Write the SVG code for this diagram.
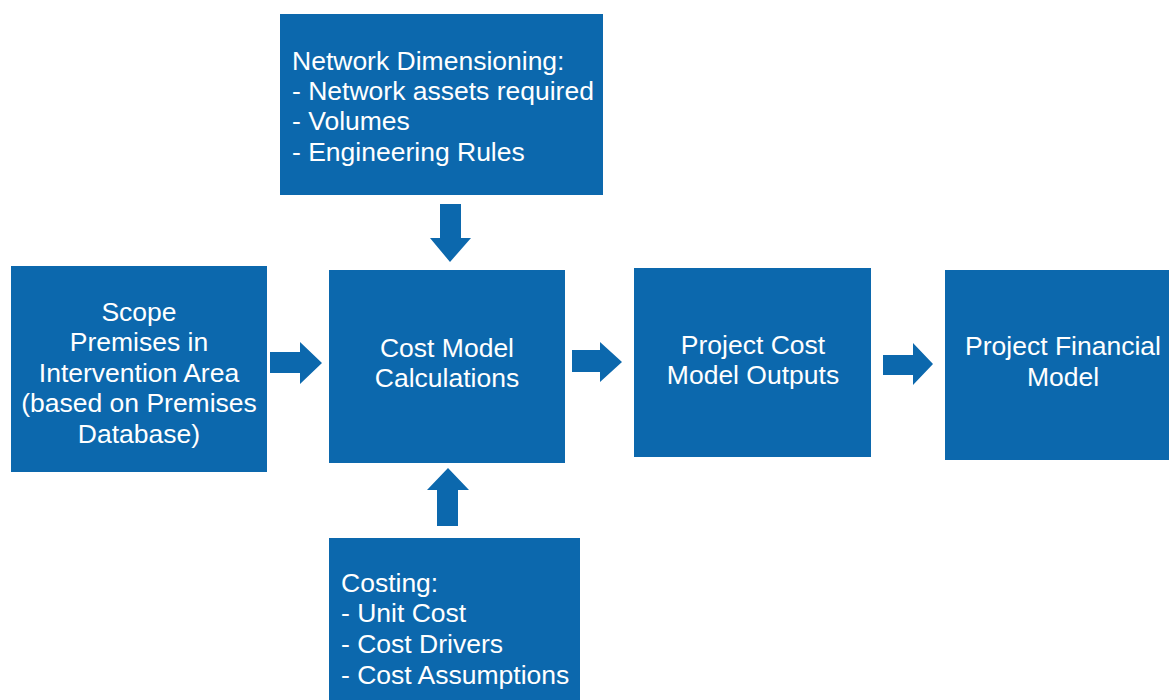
<svg xmlns="http://www.w3.org/2000/svg" width="1169" height="700" viewBox="0 0 1169 700">
<style>
.box{fill:#0C68AD}
.t{font-family:"Liberation Sans",Arial,sans-serif;font-size:26.5px;fill:#fff}
.c{text-anchor:middle}
.arr{fill:#0C68AD}
</style>
<rect width="1169" height="700" fill="#fff"/>
<g id="connectors">
<polygon class="arr" points="270,352 300,352 300,342 322,363 300,384 300,373 270,373"/>
<polygon class="arr" points="572,350 600,350 600,342 622,362 600,382 600,372 572,372"/>
<polygon class="arr" points="883,355 913,355 913,343 933,364 913,385 913,375 883,375"/>
<polygon class="arr" points="440,204 461,204 461,238 471,238 450,262 430,238 440,238"/>
<polygon class="arr" points="437,526 458,526 458,490 469,490 448,468 427,490 437,490"/>
</g>
<g id="network">
<rect class="box" x="280" y="14" width="323" height="181"/>
<text class="t" x="292" y="70">Network Dimensioning:</text>
<text class="t" x="292" y="100">- Network assets required</text>
<text class="t" x="292" y="130">- Volumes</text>
<text class="t" x="292" y="161">- Engineering Rules</text>
</g>
<g id="scope">
<rect class="box" x="11" y="266" width="256" height="206"/>
<text class="t c" x="139" y="321">Scope</text>
<text class="t c" x="139" y="351">Premises in</text>
<text class="t c" x="139" y="382">Intervention Area</text>
<text class="t c" x="139" y="412">(based on Premises</text>
<text class="t c" x="139" y="443">Database)</text>
</g>
<g id="costmodel">
<rect class="box" x="329" y="270" width="236" height="193"/>
<text class="t c" x="447" y="357">Cost Model</text>
<text class="t c" x="447" y="387">Calculations</text>
</g>
<g id="outputs">
<rect class="box" x="634" y="268" width="237" height="189"/>
<text class="t c" x="753" y="354">Project Cost</text>
<text class="t c" x="753" y="384">Model Outputs</text>
</g>
<g id="financial">
<rect class="box" x="945" y="270" width="224" height="190"/>
<text class="t c" x="1063" y="355">Project Financial</text>
<text class="t c" x="1063" y="386">Model</text>
</g>
<g id="costing">
<rect class="box" x="329" y="538" width="251" height="162"/>
<text class="t" x="341" y="592">Costing:</text>
<text class="t" x="341" y="622">- Unit Cost</text>
<text class="t" x="341" y="653">- Cost Drivers</text>
<text class="t" x="341" y="684">- Cost Assumptions</text>
</g>
</svg>
